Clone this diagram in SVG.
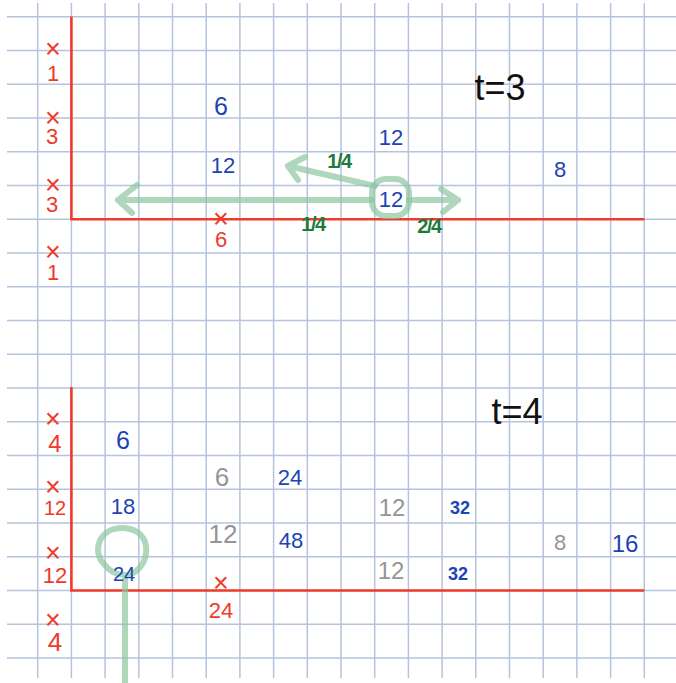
<svg xmlns="http://www.w3.org/2000/svg" width="676" height="683" viewBox="0 0 676 683">
<style>
.grid line{stroke:#b6c3dd;stroke-width:1.5}
.axis{stroke:#ef3b2c;stroke-width:2.6;fill:none}
text{font-family:"Liberation Sans","DejaVu Sans",sans-serif;text-anchor:middle}
.r{fill:#ee3a2a}
.b{fill:#1b45b5}
.g{fill:#959595}
.k{fill:#111}
.f{fill:#1d7a3c;font-size:20px;font-weight:bold;letter-spacing:-1.5px}
.x{font-size:27px}
.gs{stroke:#8cc6a0;stroke-opacity:0.7;stroke-width:6;fill:none;stroke-linecap:round;stroke-linejoin:round}
</style>
<rect width="676" height="683" fill="#fff"/>
<g class="grid" id="grid">
<line x1="37.7" y1="3" x2="37.7" y2="678"/><line x1="71.4" y1="3" x2="71.4" y2="678"/><line x1="105.1" y1="3" x2="105.1" y2="678"/><line x1="138.8" y1="3" x2="138.8" y2="678"/><line x1="172.5" y1="3" x2="172.5" y2="678"/><line x1="206.2" y1="3" x2="206.2" y2="678"/><line x1="239.9" y1="3" x2="239.9" y2="678"/><line x1="273.6" y1="3" x2="273.6" y2="678"/><line x1="307.3" y1="3" x2="307.3" y2="678"/><line x1="341" y1="3" x2="341" y2="678"/><line x1="374.7" y1="3" x2="374.7" y2="678"/><line x1="408.4" y1="3" x2="408.4" y2="678"/><line x1="442.1" y1="3" x2="442.1" y2="678"/><line x1="475.8" y1="3" x2="475.8" y2="678"/><line x1="509.5" y1="3" x2="509.5" y2="678"/><line x1="543.2" y1="3" x2="543.2" y2="678"/><line x1="576.9" y1="3" x2="576.9" y2="678"/><line x1="610.6" y1="3" x2="610.6" y2="678"/><line x1="644.3" y1="3" x2="644.3" y2="678"/>
<line x1="7" y1="16.7" x2="676" y2="16.7"/><line x1="7" y1="50.5" x2="676" y2="50.5"/><line x1="7" y1="84.2" x2="676" y2="84.2"/><line x1="7" y1="118" x2="676" y2="118"/><line x1="7" y1="151.7" x2="676" y2="151.7"/><line x1="7" y1="185.5" x2="676" y2="185.5"/><line x1="7" y1="219.2" x2="676" y2="219.2"/><line x1="7" y1="253" x2="676" y2="253"/><line x1="7" y1="286.7" x2="676" y2="286.7"/><line x1="7" y1="320.5" x2="676" y2="320.5"/><line x1="7" y1="354.2" x2="676" y2="354.2"/><line x1="7" y1="388" x2="676" y2="388"/><line x1="7" y1="421.7" x2="676" y2="421.7"/><line x1="7" y1="455.5" x2="676" y2="455.5"/><line x1="7" y1="489.2" x2="676" y2="489.2"/><line x1="7" y1="523" x2="676" y2="523"/><line x1="7" y1="556.7" x2="676" y2="556.7"/><line x1="7" y1="590.5" x2="676" y2="590.5"/><line x1="7" y1="624.2" x2="676" y2="624.2"/><line x1="7" y1="658" x2="676" y2="658"/>
</g>
<g id="axes-t3"><path class="axis" d="M71.4,16.5 V219.2 H644.3"/></g>
<g id="axes-t4"><path class="axis" d="M71.4,387 V590.5 H644.3"/></g>
<g id="connectors">
<path class="gs" d="M372,200 H118 M137,185 L118,200 L132,213"/>
<path class="gs" d="M409,200 H458 M441,189 L458,200 L443,212"/>
<path class="gs" d="M375,186 L288,166 M305,157 L288,166 L298,180"/>
<rect class="gs" x="372" y="179" width="37" height="37" rx="14"/>
<path class="gs" d="M128,575 C150,570 156,530 124,528 C98,527 92,552 104,564 C110,572 118,575 125,575 V683"/>
</g>
<g id="t3-labels">
<text class="r"><tspan class="x" x="53" y="58">×</tspan><tspan x="53" y="81" font-size="22">1</tspan></text>
<text class="r"><tspan class="x" x="53" y="127">×</tspan><tspan x="52" y="144" font-size="22">3</tspan></text>
<text class="r"><tspan class="x" x="53" y="194">×</tspan><tspan x="52" y="212" font-size="22">3</tspan></text>
<text class="r"><tspan class="x" x="53" y="261">×</tspan><tspan x="53" y="280" font-size="22">1</tspan></text>
<text class="r"><tspan class="x" x="221" y="228">×</tspan><tspan x="221" y="247" font-size="22">6</tspan></text>
<text class="b" x="221" y="115" font-size="25">6</text>
<text class="b" x="223" y="173" font-size="22">12</text>
<text class="b" x="391" y="145" font-size="22">12</text>
<text class="b" x="391" y="207" font-size="22">12</text>
<text class="b" x="560" y="177" font-size="22">8</text>
<text class="k" x="500" y="100" font-size="36">t=3</text>
<text class="f" x="339" y="168">1/4</text>
<text class="f" x="313" y="231">1/4</text>
<text class="f" x="429" y="233">2/4</text>
</g>
<g id="t4-labels">
<text class="k" x="517" y="424" font-size="36">t=4</text>
<text class="r"><tspan class="x" x="53" y="428">×</tspan><tspan x="55" y="452" font-size="24">4</tspan></text>
<text class="r"><tspan class="x" x="53" y="496">×</tspan><tspan x="55" y="515" font-size="20">12</tspan></text>
<text class="r"><tspan class="x" x="53" y="562">×</tspan><tspan x="55" y="583" font-size="22">12</tspan></text>
<text class="r"><tspan class="x" x="53" y="629">×</tspan><tspan x="55" y="651" font-size="26">4</tspan></text>
<text class="r"><tspan class="x" x="221" y="592">×</tspan><tspan x="221" y="618" font-size="22">24</tspan></text>
<text class="b" x="123" y="449" font-size="25">6</text>
<text class="b" x="123" y="514" font-size="22">18</text>
<text class="b" x="124" y="581" font-size="20">24</text>
<text class="g" x="222" y="486" font-size="26">6</text>
<text class="g" x="223" y="543" font-size="26">12</text>
<text class="b" x="290" y="485" font-size="22">24</text>
<text class="b" x="291" y="548" font-size="22">48</text>
<text class="g" x="392" y="516" font-size="24">12</text>
<text class="b" x="460" y="514" font-size="18" font-weight="bold">32</text>
<text class="g" x="391" y="579" font-size="24">12</text>
<text class="b" x="458" y="580" font-size="18" font-weight="bold">32</text>
<text class="g" x="560" y="550" font-size="22">8</text>
<text class="b" x="625" y="552" font-size="24">16</text>
</g>
</svg>
